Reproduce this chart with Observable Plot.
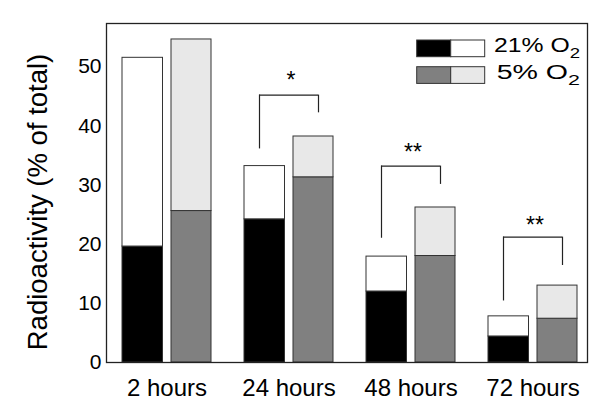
<!DOCTYPE html>
<html>
<head>
<meta charset="utf-8">
<script src="https://cdn.jsdelivr.net/npm/d3@7"></script>
<script src="https://cdn.jsdelivr.net/npm/@observablehq/plot@0.6"></script>
<style>
  html, body { margin: 0; padding: 0; background: #fff; }
  #wrap { position: relative; width: 600px; height: 419px; font-family: "Liberation Sans", Arial, Helvetica, sans-serif; }
  #legend { position: absolute; left: 0; top: 0; pointer-events: none; }
</style>
</head>
<body>
<div id="wrap"></div>
<script>
// ---- data ----
const times = ["2 hours", "24 hours", "48 hours", "72 hours"];
const low21 = [19.6, 24.2, 12.0, 4.4];
const total21 = [51.5, 33.2, 17.9, 7.8];
const low5 = [25.6, 31.3, 18.0, 7.4];
const total5 = [54.6, 38.2, 26.2, 13.0];
const yTicks = [0, 10, 20, 30, 40, 50];

const sigTimes = ["24 hours", "48 hours", "72 hours"];
const sigLabels = ["*", "**", "**"];
const bracketTop = [45.2, 33.2, 21.2];
const bracketLeft = [36.1, 21.0, 10.4];
const bracketRight = [42.2, 30.1, 16.4];
const starY = [47.6, 35.4, 23.2];

const seriesNames = ["21% O", "5% O"];
const seriesSub = ["2", "2"];
const lowerFill = ["#000000", "#808080"];
const upperFill = ["#ffffff", "#e8e8e8"];

const yLabel = "Radioactivity (% of total)";

// ---- tables built from arrays ----
const rows = times.map((t, i) => ({time: t, l21: low21[i], t21: total21[i], l5: low5[i], t5: total5[i]}));
const sig = sigTimes.map((t, i) => ({time: t, label: sigLabels[i], top: bracketTop[i], left: bracketLeft[i], right: bracketRight[i], star: starY[i]}));

const barStroke = "#333";
const chart = Plot.plot({
  width: 600,
  height: 419,
  marginLeft: 106,
  marginRight: 13,
  marginTop: 23,
  marginBottom: 57,
  style: {fontFamily: "'Liberation Sans', Arial, Helvetica, sans-serif", background: "#fff", color: "#000"},
  x: {domain: times, paddingInner: 0.273, paddingOuter: 0.1, align: 0.6},
  y: {domain: [0, 57.3]},
  marks: [
    // 21% O2 bars
    Plot.barY(rows, {x: "time", y1: 0, y2: "l21", fill: lowerFill[0], stroke: barStroke, strokeWidth: 1, insetRight: 48.5}),
    Plot.barY(rows, {x: "time", y1: "l21", y2: "t21", fill: upperFill[0], stroke: barStroke, strokeWidth: 1, insetRight: 48.5}),
    // 5% O2 bars
    Plot.barY(rows, {x: "time", y1: 0, y2: "l5", fill: lowerFill[1], stroke: barStroke, strokeWidth: 1, insetLeft: 49}),
    Plot.barY(rows, {x: "time", y1: "l5", y2: "t5", fill: upperFill[1], stroke: barStroke, strokeWidth: 1, insetLeft: 49}),
    // significance brackets
    Plot.ruleX(sig, {x: "time", y1: "left", y2: "top", dx: -29.5, stroke: "#222", strokeWidth: 1.2}),
    Plot.ruleX(sig, {x: "time", y1: "right", y2: "top", dx: 29.5, stroke: "#222", strokeWidth: 1.2}),
    Plot.tickY(sig, {x: "time", y: "top", insetLeft: 15, insetRight: 15, stroke: "#222", strokeWidth: 1.2}),
    Plot.text(sig, {x: "time", y: "star", text: "label", fontSize: 23, dx: 2, fill: "#000"}),
    // axes
    Plot.axisY({ticks: yTicks, tickSize: 0, tickPadding: 5, fontSize: 21, label: null}),
    Plot.axisX({tickSize: 0, tickPadding: 16, fontSize: 24, label: null}),
    Plot.text([yLabel], {frameAnchor: "left", textAnchor: "middle", rotate: -90, dx: -68, dy: 9, fontSize: 27.5, lineAnchor: "middle", fill: "#000"}),
    Plot.frame({stroke: "#222", strokeWidth: 1.3})
  ]
});

const wrap = document.getElementById("wrap");
wrap.appendChild(chart);

// ---- legend (overlay inside the plot frame) ----
const leg = d3.select(wrap).append("svg")
  .attr("id", "legend")
  .attr("width", 600).attr("height", 419);
const swX = 416.7, swHalf = 34, swH = 16.7, rowTops = [40, 66.7], textX = [494, 496.7], textLen = [86, 83.3];
seriesNames.forEach((name, i) => {
  const g = leg.append("g");
  g.append("rect").attr("x", swX).attr("y", rowTops[i]).attr("width", swHalf).attr("height", swH)
    .attr("fill", lowerFill[i]).attr("stroke", barStroke).attr("stroke-width", 1);
  g.append("rect").attr("x", swX + swHalf).attr("y", rowTops[i]).attr("width", swHalf).attr("height", swH)
    .attr("fill", upperFill[i]).attr("stroke", barStroke).attr("stroke-width", 1);
  const t = g.append("text")
    .attr("x", textX[i]).attr("y", rowTops[i] + swH / 2 + 4)
    .attr("font-family", "'Liberation Sans', Arial, Helvetica, sans-serif")
    .attr("font-size", 20).attr("fill", "#000")
    .attr("textLength", textLen[i]).attr("lengthAdjust", "spacingAndGlyphs");
  t.append("tspan").text(name);
  t.append("tspan").attr("dy", 6).attr("font-size", 15).text(seriesSub[i]);
});
</script>
</body>
</html>
